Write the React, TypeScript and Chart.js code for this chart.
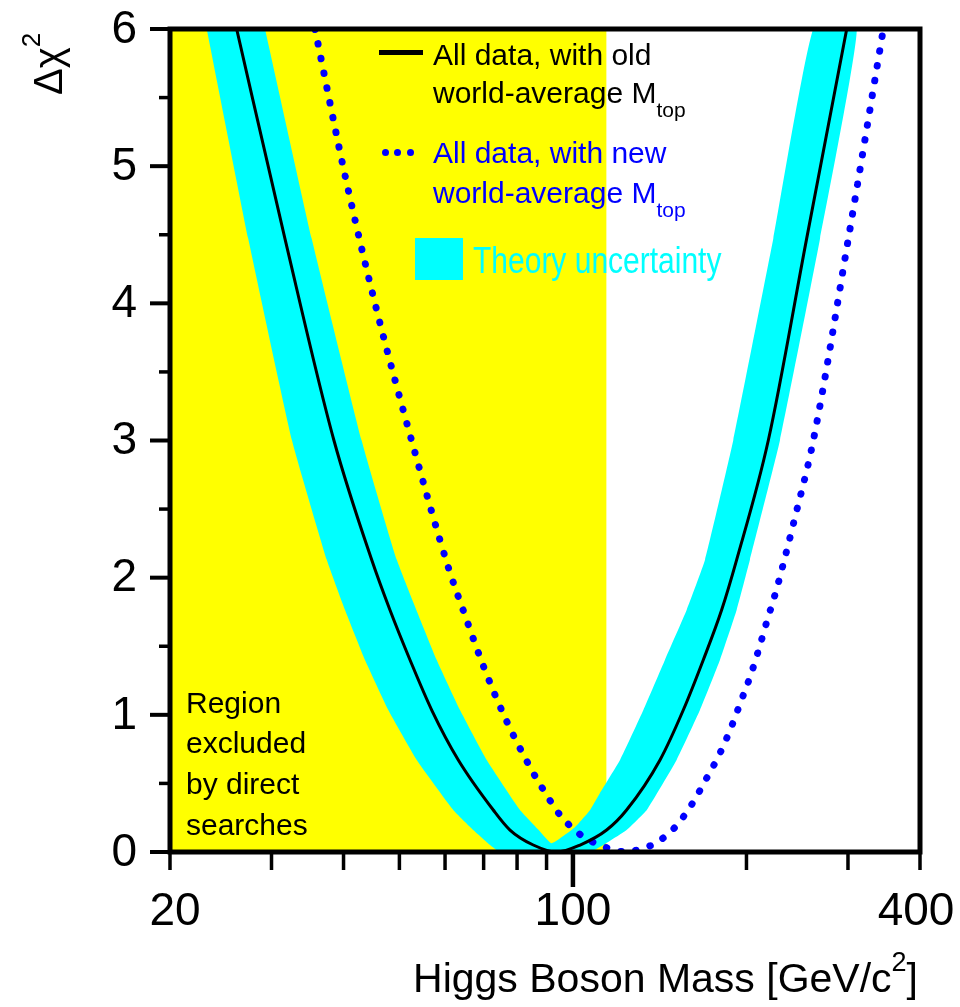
import React, { useEffect, useRef } from "react";
import { Chart, registerables } from "chart.js";

Chart.register(...registerables);

const FONT = "'Liberation Sans', Arial, Helvetica, sans-serif";

// ---- axes ----
const xMin = 20;
const xMax = 400;
const yMin = 0;
const yMax = 6;
const xTickLabels = [20, 100, 400];
const xMinorTicks = [30, 40, 50, 60, 70, 80, 90, 200, 300];
const yTickLabels = [0, 1, 2, 3, 4, 5, 6];
const yMinorTicks = [0.5, 1.5, 2.5, 3.5, 4.5, 5.5];

// ---- excluded region (direct searches) ----
const directSearchLimit = 114.4;

// ---- All data, old world-average Mtop (solid black) ----
const oldMass = [26.1, 31.66, 38.5, 44.76, 48.15, 52.17, 56.89, 63.26, 72.75, 77.77, 85.35, 93.7, 102.9, 114.4, 123.9, 141.6, 155.4, 168.3, 181.1, 192.3, 218.2, 254.3, 298.5];
const oldChi2 = [6.0, 4.47, 3.0, 2.13, 1.764, 1.4, 1.035, 0.671, 0.306, 0.16, 0.051, 0.0, 0.051, 0.16, 0.306, 0.671, 1.035, 1.4, 1.764, 2.13, 3.0, 4.47, 6.0];

// ---- All data, new world-average Mtop (blue dotted) ----
const newMass = [35.69, 40.35, 45.48, 52.74, 60.95, 64.54, 69.72, 76.23, 84.47, 89.43, 94.96, 103.2, 112.9, 124.6, 131.6, 138.2, 150.3, 160.9, 169.9, 179.4, 187.8, 195.7, 203.4, 210.5, 217.3, 225.0, 231.7, 241.8, 261.2, 300.4, 345.5];
const newChi2 = [6.0, 4.91, 3.98, 2.97, 2.06, 1.76, 1.37, 0.98, 0.61, 0.435, 0.27, 0.124, 0.04, 0.0, 0.027, 0.058, 0.18, 0.35, 0.525, 0.71, 0.9, 1.1, 1.29, 1.49, 1.69, 1.9, 2.1, 2.41, 3.0, 4.47, 6.0];

// ---- Theory uncertainty band outline (left outer, right outer, right inner, left inner) ----
const bandMass = [
  23.16, 27.34, 32.56, 37.41, 40.24, 43.58, 47.83, 53.59, 62.01, 67.16, 71.8, 74.7,
  107.1, 112.9, 123.9, 134.3, 151.3, 166.1, 179.9, 192.3, 202.8, 228.6, 268.3, 310.7,
  261.2, 222.6, 189.7, 169.5, 157.5, 144.4, 132.5, 120.7, 111.4, 107.1, 100.8,
  91.88,
  87.68, 80.94, 70.86, 63.69, 58.04, 49.48, 43.0, 35.23, 29.23,
];
const bandChi2 = [
  6.0, 4.47, 3.0, 2.13, 1.764, 1.4, 1.035, 0.671, 0.306, 0.16, 0.051, 0.0,
  0.0, 0.051, 0.16, 0.306, 0.671, 1.035, 1.4, 1.764, 2.13, 3.0, 4.47, 6.0,
  6.0, 4.47, 3.0, 2.13, 1.764, 1.4, 1.035, 0.671, 0.43, 0.306, 0.18,
  0.063,
  0.15, 0.306, 0.671, 1.035, 1.4, 2.13, 3.0, 4.47, 6.0,
];

const pts = (xs: number[], ys: number[]) => xs.map((x, i) => ({ x, y: ys[i] }));

const xLabelShift: Record<number, number> = { 20: 5, 100: 0, 400: -4 };

const framePlugin = {
  id: "frameTicks",
  afterDatasetsDraw(chart: any) {
    const { ctx, chartArea: a, scales } = chart;
    const x = scales.x;
    const y = scales.y;
    ctx.save();
    ctx.strokeStyle = "#000";
    ctx.lineCap = "butt";
    for (const v of [...xTickLabels, ...xMinorTicks]) {
      const px = x.getPixelForValue(v);
      const len = v === 100 ? 35 : 18;
      ctx.lineWidth = v === 100 ? 4.5 : 3.5;
      ctx.beginPath();
      ctx.moveTo(px, a.bottom);
      ctx.lineTo(px, a.bottom + len);
      ctx.stroke();
    }
    for (const v of yTickLabels) {
      const py = y.getPixelForValue(v);
      ctx.lineWidth = 4;
      ctx.beginPath();
      ctx.moveTo(a.left, py);
      ctx.lineTo(a.left - 20, py);
      ctx.stroke();
    }
    for (const v of yMinorTicks) {
      const py = y.getPixelForValue(v);
      ctx.lineWidth = 3.5;
      ctx.beginPath();
      ctx.moveTo(a.left, py);
      ctx.lineTo(a.left - 11, py);
      ctx.stroke();
    }
    ctx.lineWidth = 5;
    ctx.strokeRect(a.left, a.top, a.right - a.left, a.bottom - a.top);

    // tick labels
    ctx.fillStyle = "#000";
    ctx.font = `46px ${FONT}`;
    ctx.textBaseline = "middle";
    ctx.textAlign = "right";
    for (const v of yTickLabels) {
      ctx.fillText(String(v), a.left - 33, y.getPixelForValue(v) + 1);
    }
    ctx.textAlign = "center";
    for (const v of xTickLabels) {
      ctx.fillText(String(v), x.getPixelForValue(v) + (xLabelShift[v] || 0), a.bottom + 60);
    }
    ctx.restore();
  },
};

const baselineTop = (baseline: number, size: number) => baseline - 0.9465 * size;

function Txt(props: {
  left?: number;
  right?: number;
  baseline: number;
  size: number;
  color: string;
  children: React.ReactNode;
  style?: React.CSSProperties;
}) {
  const { left, right, baseline, size, color, children, style } = props;
  return (
    <div
      style={{
        position: "absolute",
        left,
        right,
        top: baselineTop(baseline, size),
        fontSize: size,
        lineHeight: `${size * 1.2}px`,
        color,
        whiteSpace: "nowrap",
        fontFamily: FONT,
        ...style,
      }}
    >
      {children}
    </div>
  );
}

export default function App() {
  const ref = useRef<HTMLCanvasElement>(null);

  useEffect(() => {
    const canvas = ref.current;
    if (!canvas) return;
    const chart = new Chart(canvas, {
      type: "line",
      data: {
        datasets: [
          {
            label: "All data, with old world-average Mtop",
            data: pts(oldMass, oldChi2),
            borderColor: "#000000",
            borderWidth: 3,
            pointRadius: 0,
            fill: false,
            cubicInterpolationMode: "monotone",
            order: 0,
          },
          {
            label: "All data, with new world-average Mtop",
            data: pts(newMass, newChi2),
            borderColor: "#0000ff",
            borderWidth: 7,
            borderDash: [0.5, 14.5],
            borderCapStyle: "round",
            pointRadius: 0,
            fill: false,
            cubicInterpolationMode: "monotone",
            order: 1,
          },
          {
            label: "Theory uncertainty",
            data: pts(bandMass, bandChi2),
            borderColor: "transparent",
            borderWidth: 0,
            backgroundColor: "#00ffff",
            pointRadius: 0,
            tension: 0.12,
            fill: "shape",
            order: 2,
          },
          {
            label: "Region excluded by direct searches",
            data: pts([xMin, directSearchLimit], [yMax, yMax]),
            borderColor: "transparent",
            borderWidth: 0,
            backgroundColor: "#ffff00",
            pointRadius: 0,
            fill: "start",
            order: 3,
          },
        ],
      },
      options: {
        responsive: false,
        maintainAspectRatio: false,
        animation: false,
        events: [],
        layout: { padding: { left: 0, right: 40, top: 29, bottom: 0 } },
        plugins: {
          legend: { display: false },
          tooltip: { enabled: false },
          title: { display: false },
        },
        scales: {
          x: {
            type: "logarithmic",
            min: xMin,
            max: xMax,
            position: "bottom",
            grid: { display: false },
            border: { display: false },
            afterFit: (s: any) => {
              s.height = 155;
            },
            ticks: { display: false },
          },
          y: {
            type: "linear",
            min: yMin,
            max: yMax,
            grid: { display: false },
            border: { display: false },
            afterFit: (s: any) => {
              s.width = 170;
            },
            ticks: { display: false, stepSize: 1 },
          },
        },
      } as any,
      plugins: [framePlugin],
    });
    return () => chart.destroy();
  }, []);

  return (
    <div
      style={{
        position: "absolute",
        left: 0,
        top: 0,
        width: 960,
        height: 1007,
        background: "#ffffff",
        overflow: "hidden",
        fontFamily: FONT,
      }}
    >
      <canvas
        ref={ref}
        width={960}
        height={1007}
        style={{ position: "absolute", left: 0, top: 0, width: 960, height: 1007 }}
      />

      {/* legend */}
      <div style={{ position: "absolute", left: 379, top: 50, width: 44, height: 5, background: "#000" }} />
      <Txt left={433} baseline={65} size={30} color="#000">All data, with old</Txt>
      <Txt left={433} baseline={103} size={30} color="#000">
        world-average M
        <span style={{ fontSize: 21, position: "relative", top: 14, lineHeight: 0 }}>top</span>
      </Txt>

      {[385, 397, 410].map((cx) => (
        <div
          key={cx}
          style={{
            position: "absolute",
            left: cx - 3.5,
            top: 148.5,
            width: 7,
            height: 7,
            borderRadius: 3.5,
            background: "#0000ff",
          }}
        />
      ))}
      <Txt left={433} baseline={163} size={30} color="#0000ff">All data, with new</Txt>
      <Txt left={433} baseline={203} size={30} color="#0000ff">
        world-average M
        <span style={{ fontSize: 21, position: "relative", top: 14, lineHeight: 0 }}>top</span>
      </Txt>

      <div style={{ position: "absolute", left: 415, top: 238, width: 48, height: 42, background: "#00ffff" }} />
      <Txt
        left={473}
        baseline={273}
        size={30}
        color="#00ffff"
        style={{ transform: "scaleY(1.2)", transformOrigin: `0px ${0.9465 * 30}px` }}
      >
        Theory uncertainty
      </Txt>

      {/* excluded region text */}
      <Txt left={186} baseline={713} size={30} color="#000">Region</Txt>
      <Txt left={186} baseline={753} size={30} color="#000">excluded</Txt>
      <Txt left={186} baseline={794} size={30} color="#000">by direct</Txt>
      <Txt left={186} baseline={835} size={30} color="#000">searches</Txt>

      {/* x-axis title */}
      <Txt right={42} baseline={993} size={41} color="#000">
        Higgs Boson Mass [GeV/c
        <span style={{ fontSize: 27, position: "relative", top: -21, lineHeight: 0 }}>2</span>]
      </Txt>

      {/* y-axis title */}
      <div
        style={{
          position: "absolute",
          left: 24,
          top: 95,
          fontSize: 40,
          lineHeight: "48px",
          whiteSpace: "nowrap",
          color: "#000",
          fontFamily: FONT,
          transform: "rotate(-90deg)",
          transformOrigin: "0 0",
        }}
      >
        Δχ
        <span style={{ fontSize: 26, position: "relative", top: -22, lineHeight: 0 }}>2</span>
      </div>
    </div>
  );
}
